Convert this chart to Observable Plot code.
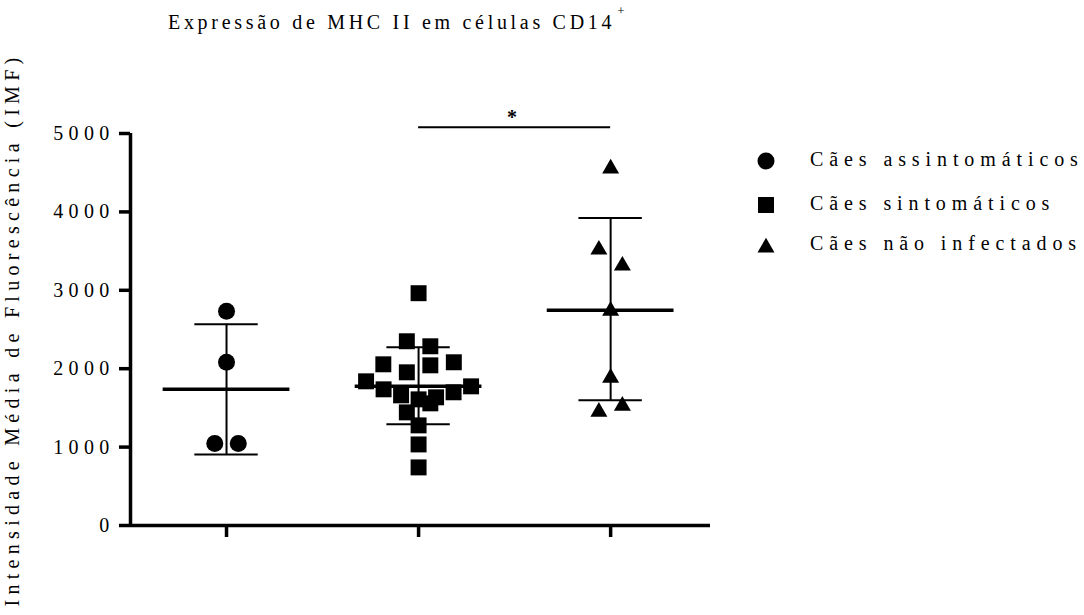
<!DOCTYPE html>
<html>
<head>
<meta charset="utf-8">
<script src="https://cdn.jsdelivr.net/npm/d3@7"></script>
<script src="https://cdn.jsdelivr.net/npm/@observablehq/plot@0.6"></script>
<style>
  body { margin: 0; background: #fff; }
  #wrap { position: relative; width: 1084px; height: 615px; font-family: "Liberation Serif", "Times New Roman", serif; color: #000; }
  #title { height: 40px; position: relative; }
  #title span.t { position: absolute; left: 168px; top: 12px; font-size: 20px; line-height: 20px; letter-spacing: 3.7px; white-space: nowrap; }
  #title sup { font-size: 13px; position: relative; top: -11px; left: 2px; vertical-align: top; letter-spacing: 0; }
  .lg { position: absolute; font-size: 20px; line-height: 20px; letter-spacing: 5.9px; white-space: nowrap; }
  .sw { position: absolute; }
</style>
</head>
<body>
<div id="wrap">
  <div id="title"><span class="t">Expressão de MHC II em células CD14<sup>+</sup></span></div>
  <div id="chart"></div>
  <div id="legend"></div>
</div>
<script>
// ---- data ----
const groups = ["Cães assintomáticos", "Cães sintomáticos", "Cães não infectados"];
const assintomaticos = [2733, 2082, 1047, 1047];
const sintomaticos = [2963, 2350, 2286, 2082, 2056, 2043, 1954, 1839, 1775, 1737,
                      1699, 1660, 1635, 1609, 1558, 1443, 1277, 1034, 741];
const naoInfectados = [4585, 3550, 3346, 2771, 1916, 1558, 1481];
const means = [1737, 1775, 2746];
const sdUpper = [2567, 2273, 3921];
const sdLower = [907, 1290, 1596];
const yTicks = [0, 1000, 2000, 3000, 4000, 5000];
const comparisonFrom = ["Cães sintomáticos"];
const comparisonTo = ["Cães não infectados"];
const comparisonLabel = ["*"];
const comparisonLevel = [5080];
const yLabel = "Intensidade Média de Fluorescência (IMF)";

// ---- styling ----
const symbols = ["circle", "square", "triangle"];
const radii = [8.5, 9, 6.3];
const symbolDy = [0, 0, 2.5];
const series = [assintomaticos, sintomaticos, naoInfectados];

const xDomain = [-0.5, 2.52];
const yDomain = [yTicks[0], yTicks[yTicks.length - 1]];

const stats = groups.map((g, i) => ({i, mean: means[i], hi: sdUpper[i], lo: sdLower[i]}));
const comps = comparisonFrom.map((f, k) => ({
  x1: groups.indexOf(f), x2: groups.indexOf(comparisonTo[k]),
  xm: (groups.indexOf(f) + groups.indexOf(comparisonTo[k])) / 2,
  y: comparisonLevel[k], label: comparisonLabel[k]
}));

// scatter layout (Prism-like): points close in y form a row, spread symmetrically
function scatterLayout(gi, {rowGap = 18.8, spacing = 23.5, maxSpread = 105} = {}) {
  return function (data, facets, channels, scales) {
    const V = channels.y.value;
    const n = V.length;
    const Y = Array.from(V, (v) => scales.y(v));
    const cx = scales.x(gi);
    const X = new Float64Array(n).fill(cx);
    const idx = d3.range(n).sort((a, b) => Y[a] - Y[b]);
    const rows = [];
    let cur = null;
    for (const k of idx) {
      if (cur && Y[k] - Y[cur[0]] < rowGap) cur.push(k);
      else { cur = [k]; rows.push(cur); }
    }
    let multi = 0;
    for (const row of rows) {
      const m = row.length;
      if (m === 1) continue;
      const s = Math.min(spacing, maxSpread / (m - 1));
      const slots = d3.range(m).map((j) => (j - (m - 1) / 2) * s);
      let turn = multi++ % 2 === 0 ? -1 : 1;
      let lo = 0, hi = m - 1;
      const order = [];
      while (lo <= hi) {
        if (lo === hi) { order.push(slots[lo]); break; }
        order.push(turn < 0 ? slots[lo++] : slots[hi--]);
        turn = -turn;
      }
      row.forEach((k, j) => (X[k] = cx + order[j]));
    }
    return {data, facets, channels: {x: {value: X, source: null}}};
  };
}

const pointMarks = series.map((vals, i) =>
  Plot.dot(vals.map((v) => ({v})), Plot.initializer(
    {y: "v", r: radii[i], symbol: symbols[i], fill: "black", stroke: null, dy: symbolDy[i]},
    scatterLayout(i)
  ))
);

const plot = Plot.plot({
  width: 1084,
  height: 575,
  marginTop: 93,
  marginBottom: 90,
  marginLeft: 130,
  marginRight: 374,
  style: {fontFamily: '"Liberation Serif", "Times New Roman", serif', fontSize: "20px", letterSpacing: "5.3px", color: "black", background: "white"},
  x: {domain: xDomain},
  y: {domain: yDomain},
  marks: [
    Plot.axisY({ticks: yTicks, tickSize: 11, tickPadding: 5, strokeWidth: 3.5, fontSize: 20, tickFormat: (d) => String(d),
      label: yLabel, labelAnchor: "center", labelArrow: "none", labelOffset: 126}),
    Plot.axisX({ticks: [0, 1, 2], tickSize: 12, tickFormat: () => "", strokeWidth: 3.5, label: null}),
    Plot.ruleY([yDomain[0]], {x1: xDomain[0], x2: xDomain[1], strokeWidth: 3.5}),
    Plot.ruleX([xDomain[0]], {y1: yDomain[0], y2: yDomain[1], strokeWidth: 3.5}),
    // SD whiskers
    Plot.ruleX(stats, {x: "i", y1: "lo", y2: "hi", strokeWidth: 2}),
    Plot.ruleY(stats, {x1: (d) => d.i - 0.165, x2: (d) => d.i + 0.165, y: "hi", strokeWidth: 2}),
    Plot.ruleY(stats, {x1: (d) => d.i - 0.165, x2: (d) => d.i + 0.165, y: "lo", strokeWidth: 2}),
    ...pointMarks,
    // mean lines
    Plot.ruleY(stats, {x1: (d) => d.i - 0.33, x2: (d) => d.i + 0.33, y: "mean", strokeWidth: 3.5}),
    // significance
    Plot.ruleY(comps, {x1: "x1", x2: "x2", y: "y", strokeWidth: 2}),
    Plot.text(comps, {x: "xm", y: "y", text: "label", lineAnchor: "bottom", dy: -3, fontSize: 20, fontWeight: "bold"})
  ]
});
document.getElementById("chart").appendChild(plot);

// legend
const legend = document.getElementById("legend");
const rowY = [161, 205, 245];
groups.forEach((g, i) => {
  const sw = document.createElementNS("http://www.w3.org/2000/svg", "svg");
  sw.setAttribute("class", "sw");
  sw.setAttribute("width", 24);
  sw.setAttribute("height", 24);
  sw.style.left = (766 - 12) + "px";
  sw.style.top = (rowY[i] - 12) + "px";
  const sym = {circle: d3.symbolCircle, square: d3.symbolSquare, triangle: d3.symbolTriangle}[symbols[i]];
  const p = document.createElementNS("http://www.w3.org/2000/svg", "path");
  p.setAttribute("d", d3.symbol(sym, Math.PI * radii[i] * radii[i])());
  p.setAttribute("transform", `translate(12,${12 + symbolDy[i]})`);
  sw.appendChild(p);
  legend.appendChild(sw);
  const t = document.createElement("div");
  t.className = "lg";
  t.textContent = g;
  t.style.left = "810px";
  t.style.top = (rowY[i] - 12) + "px";
  legend.appendChild(t);
});
</script>
</body>
</html>
